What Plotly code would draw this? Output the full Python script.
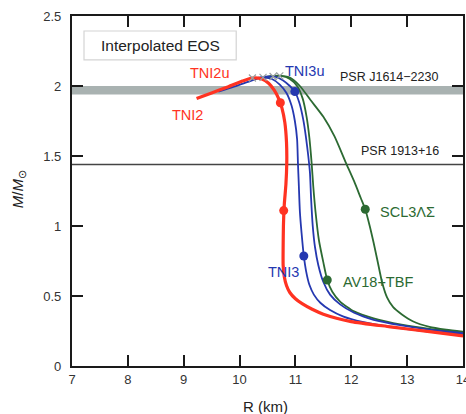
import plotly.graph_objects as go

# ---- data ----
tni2_R = [9.23, 9.5, 9.8, 10.05, 10.23, 10.4, 10.52, 10.62, 10.7, 10.76, 10.81, 10.84, 10.845, 10.83, 10.8,
          10.785, 10.78, 10.78, 10.8, 10.84, 10.9, 11.0, 11.12, 11.3, 11.5, 12.0, 12.7, 13.4, 14.0]
tni2_M = [1.91, 1.95, 1.995, 2.035, 2.057, 2.05, 2.02, 1.97, 1.91, 1.84, 1.74, 1.6, 1.45, 1.3, 1.15,
          1.0, 0.85, 0.72, 0.64, 0.575, 0.525, 0.48, 0.445, 0.405, 0.37, 0.317, 0.28, 0.245, 0.215]

tni2u_R = [9.9, 10.05, 10.23, 10.4, 10.52, 10.62, 10.7, 10.76, 10.81, 10.84, 10.845, 10.83, 10.8,
           10.785, 10.78, 10.78, 10.8, 10.84, 10.9, 11.0, 11.12, 11.3, 11.5, 12.0, 12.7, 13.4, 14.0]
tni2u_M = [2.01, 2.035, 2.057, 2.05, 2.02, 1.97, 1.91, 1.84, 1.74, 1.6, 1.45, 1.3, 1.15,
           1.0, 0.85, 0.72, 0.64, 0.575, 0.525, 0.48, 0.445, 0.405, 0.37, 0.317, 0.28, 0.245, 0.215]

tni3_R = [9.62, 9.9, 10.15, 10.4, 10.58, 10.72, 10.84, 10.93, 10.99, 11.03, 11.045, 11.06, 11.08, 11.11,
          11.15, 11.19, 11.25, 11.33, 11.45, 11.62, 11.85, 12.2, 12.7, 13.3, 14.0]
tni3_M = [1.96, 1.995, 2.03, 2.062, 2.05, 2.01, 1.95, 1.86, 1.75, 1.62, 1.45, 1.3, 1.1, 0.95,
          0.786, 0.68, 0.58, 0.51, 0.45, 0.4, 0.355, 0.315, 0.28, 0.25, 0.228]

tni3u_R = [10.25, 10.45, 10.62, 10.78, 10.9, 10.99, 11.07, 11.14, 11.19, 11.23, 11.26, 11.28, 11.31, 11.35,
           11.41, 11.5, 11.62, 11.8, 12.05, 12.4, 12.9, 13.4, 14.0]
tni3u_M = [2.05, 2.066, 2.068, 2.04, 2.0, 1.96, 1.88, 1.76, 1.63, 1.5, 1.38, 1.2, 1.0, 0.85,
           0.72, 0.6, 0.51, 0.44, 0.38, 0.33, 0.29, 0.26, 0.235]

av18_R = [10.35, 10.55, 10.75, 10.9, 11.03, 11.13, 11.2, 11.25, 11.29, 11.32, 11.36, 11.42, 11.5, 11.57,
          11.66, 11.8, 12.05, 12.4, 12.9, 13.4, 14.0]
av18_M = [2.055, 2.07, 2.072, 2.05, 2.0, 1.91, 1.78, 1.63, 1.45, 1.28, 1.1, 0.9, 0.74, 0.614,
          0.53, 0.46, 0.39, 0.34, 0.295, 0.265, 0.24]

scl_R = [10.45, 10.7, 10.9, 11.08, 11.27, 11.5, 11.7, 11.9, 12.05, 12.17, 12.25, 12.33, 12.4, 12.47,
         12.55, 12.64, 12.75, 12.9, 13.1, 13.4, 13.7, 14.0]
scl_M = [2.06, 2.072, 2.06, 2.0, 1.9, 1.78, 1.64, 1.455, 1.32, 1.2, 1.12, 1.0, 0.88, 0.75,
         0.6, 0.49, 0.42, 0.37, 0.32, 0.28, 0.26, 0.245]

# dots on the curves
tni2_dot_R = [10.73, 10.79]
tni2_dot_M = [1.88, 1.11]
tni3_dot_R = [11.15]
tni3_dot_M = [0.786]
tni3u_dot_R = [10.99]
tni3u_dot_M = [1.96]
av18_dot_R = [11.57]
av18_dot_M = [0.614]
scl_dot_R = [12.25]
scl_dot_M = [1.12]

# maximum-mass crosses
max_R = [10.23, 10.42, 10.6, 10.72]
max_M = [2.057, 2.062, 2.068, 2.072]

# observational constraints
psr_j1614_lo, psr_j1614_hi = 1.94, 2.0
psr_1913 = 1.44

x_ticks = [7, 8, 9, 10, 11, 12, 13, 14]
y_ticks = [0, 0.5, 1, 1.5, 2, 2.5]
y_tick_text = ["0", "0.5", "1", "1.5", "2", "2.5"]

RED = "#ff3322"
BLUE = "#2538b0"
GREEN = "#2c6a32"
FONT = "Liberation Sans"

fig = go.Figure()

def curve(R, M, color, width):
    fig.add_trace(go.Scatter(x=R, y=M, mode="lines",
                             line=dict(color=color, width=width, shape="spline", smoothing=0.6),
                             hoverinfo="skip", showlegend=False))

def dots(R, M, color):
    fig.add_trace(go.Scatter(x=R, y=M, mode="markers",
                             marker=dict(color=color, size=9),
                             hoverinfo="skip", showlegend=False))

curve(scl_R, scl_M, GREEN, 1.8)
curve(av18_R, av18_M, GREEN, 1.8)
curve(tni3u_R, tni3u_M, BLUE, 1.8)
curve(tni3_R, tni3_M, BLUE, 1.8)
curve(tni2_R, tni2_M, RED, 3.2)
curve(tni2u_R, tni2u_M, RED, 1.6)

dots(scl_dot_R, scl_dot_M, GREEN)
dots(av18_dot_R, av18_dot_M, GREEN)
dots(tni3u_dot_R, tni3u_dot_M, BLUE)
dots(tni3_dot_R, tni3_dot_M, BLUE)
dots(tni2_dot_R, tni2_dot_M, RED)

fig.add_trace(go.Scatter(x=max_R, y=max_M, mode="markers",
                         marker=dict(symbol="x-thin", size=7, line=dict(color="#9aa0a0", width=1.2)),
                         hoverinfo="skip", showlegend=False))

# gray band and horizontal line
fig.add_shape(type="rect", xref="paper", yref="y", x0=0, x1=1, y0=psr_j1614_lo, y1=psr_j1614_hi,
              fillcolor="#a9b2b1", line=dict(width=0), layer="below")
fig.add_shape(type="line", xref="paper", yref="y", x0=0, x1=1, y0=psr_1913, y1=psr_1913,
              line=dict(color="#444444", width=1.5), layer="below")

# Interpolated EOS box
fig.add_shape(type="rect", xref="x", yref="y", x0=7.215, x1=9.94, y0=2.187, y1=2.393,
              fillcolor="white", line=dict(color="#d4d4d4", width=1.2))
fig.add_annotation(x=8.58, y=2.29, xref="x", yref="y", text="Interpolated EOS", showarrow=False,
                   font=dict(family=FONT, size=15.5, color="#222222"))

def label(x, y, text, color, size=14.5):
    fig.add_annotation(x=x, y=y, xref="x", yref="y", text=text, showarrow=False,
                       font=dict(family=FONT, size=size, color=color))

label(9.47, 2.093, "TNI2u", RED)
label(9.06, 1.79, "TNI2", RED)
label(11.17, 2.107, "TNI3u", BLUE)
label(10.79, 0.671, "TNI3", BLUE)
label(12.675, 2.064, "PSR J1614\u22122230", "#222222", 12.5)
label(12.87, 1.536, "PSR 1913+16", "#222222", 12.5)
label(13.0, 1.1, "SCL3\u039b\u03a3", GREEN)
label(12.48, 0.6, "AV18+TBF", GREEN)

fig.add_annotation(x=0.494, y=-0.117, xref="paper", yref="paper", text="R (km)", showarrow=False,
                   font=dict(family=FONT, size=15, color="#222222"), yanchor="middle")
fig.add_annotation(x=-0.138, y=0.505, xref="paper", yref="paper",
                   text="<i>M</i>/<i>M</i><sub>\u2299</sub>", showarrow=False, textangle=-90,
                   font=dict(family=FONT, size=15, color="#222222"), xanchor="center", yanchor="middle")

axis_common = dict(showgrid=False, zeroline=False, showline=True, linecolor="#1a1a1a", linewidth=2.2,
                   mirror="allticks", ticks="inside", ticklen=11, tickwidth=2.2, tickcolor="#1a1a1a",
                   tickfont=dict(family=FONT, size=13, color="#333333"),
                   automargin=False, ticklabeloverflow="allow")

fig.update_xaxes(range=[7, 14], tickvals=x_ticks, ticktext=[str(v) for v in x_ticks], **axis_common)
fig.update_yaxes(range=[0, 2.5], tickvals=y_ticks, ticktext=y_tick_text,
                 ticklabelstandoff=6, **axis_common)

fig.update_layout(width=466, height=414, margin=dict(l=72, r=3, t=16, b=48, autoexpand=False),
                  plot_bgcolor="white", paper_bgcolor="white", showlegend=False)

fig.write_html("out.html", config={"displayModeBar": False, "responsive": False},
               post_script="document.body.style.margin='0px';document.body.style.overflow='hidden';"
                           "document.documentElement.style.overflow='hidden';")
